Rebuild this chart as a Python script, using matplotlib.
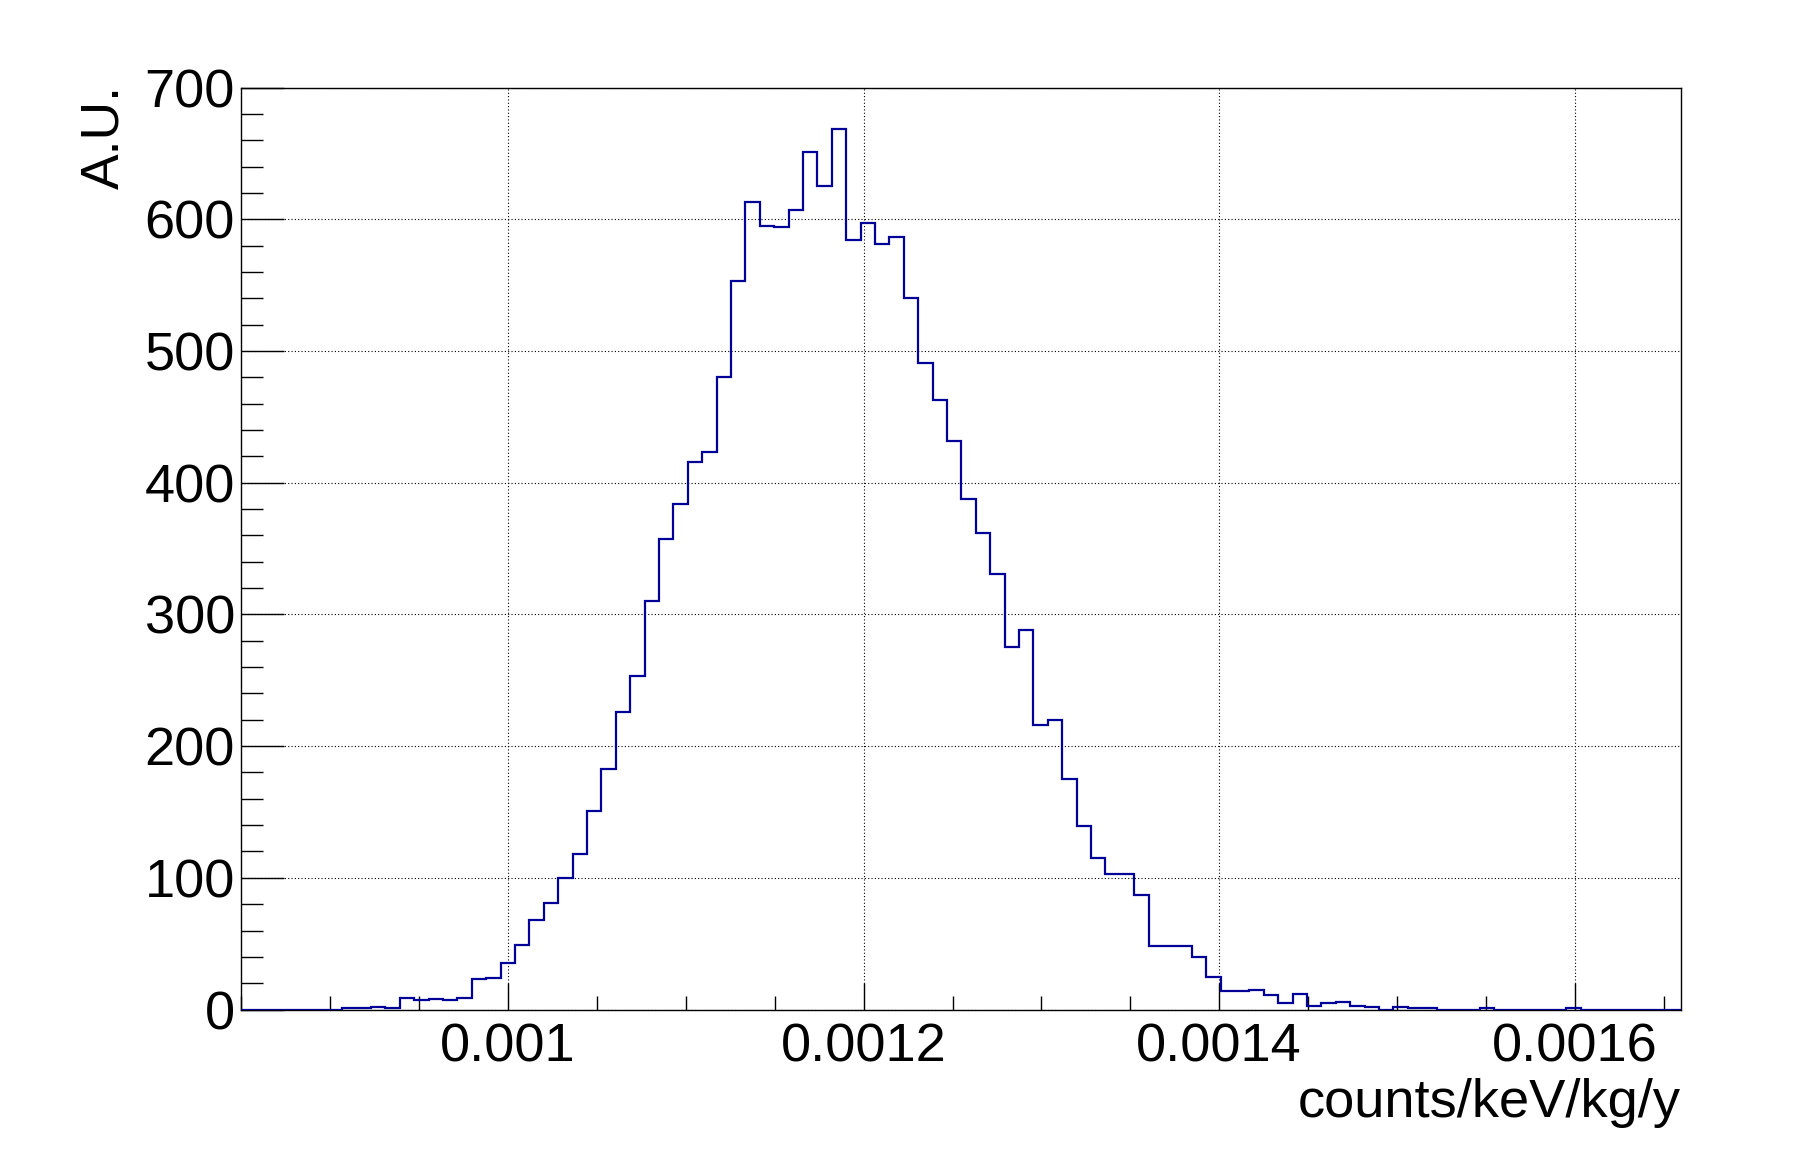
import numpy as np
import matplotlib
matplotlib.use('Agg')
import matplotlib.pyplot as plt
from matplotlib.ticker import MultipleLocator, FuncFormatter

# histogram range and binning
x_low = 0.00085
x_high = 0.00166
n_bins = 100

# bin contents
counts = [0, 0, 0, 0, 0, 0, 0, 1, 1, 2,
          1, 9, 7, 8, 7, 9, 23, 24, 35, 49,
          68, 81, 100, 118, 151, 183, 226, 253, 310, 357,
          384, 416, 423, 480, 553, 613, 595, 594, 607, 651,
          625, 669, 584, 597, 581, 587, 540, 491, 463, 432,
          388, 362, 331, 275, 288, 216, 220, 175, 139, 115,
          103, 103, 87, 48, 48, 48, 40, 25, 14, 14,
          15, 11, 5, 12, 3, 5, 6, 3, 2, 0,
          2, 1, 1, 0, 0, 0, 1, 0, 0, 0,
          0, 0, 1, 0, 0, 0, 0, 0, 0, 0]

x_title = 'counts/keV/kg/y'
y_title = 'A.U.'

plt.rcParams['font.family'] = ['Liberation Sans', 'DejaVu Sans']

fig = plt.figure(figsize=(17.98, 11.54), dpi=100)
ax = fig.add_axes([0.1342, 0.1252, 0.8010, 0.7988])

edges = np.linspace(x_low, x_high, n_bins + 1)
ax.stairs(counts, edges, color='#000099', linewidth=1.6, zorder=3)

ax.set_xlim(x_low, x_high)
ax.set_ylim(0, 700)

ax.xaxis.set_major_locator(MultipleLocator(0.0002))
ax.xaxis.set_minor_locator(MultipleLocator(0.00005))
ax.yaxis.set_major_locator(MultipleLocator(100))
ax.yaxis.set_minor_locator(MultipleLocator(20))
ax.xaxis.set_major_formatter(FuncFormatter(lambda v, p: '%g' % v))

ax.tick_params(which='both', direction='in', top=False, right=False,
               width=1.0, labelsize=39)
ax.tick_params(axis='x', which='major', length=19.5, pad=9)
ax.tick_params(axis='x', which='minor', length=10)
ax.tick_params(axis='y', which='major', length=31, pad=4.5)
ax.tick_params(axis='y', which='minor', length=16)

for s in ax.spines.values():
    s.set_linewidth(1.0)

ax.grid(True, which='major', color='black', linestyle=(0, (1, 2)), linewidth=0.8)

fig.text(0.935, 0.032, x_title, ha='right', va='baseline', fontsize=39.2)
fig.text(0.0718, 0.9263, y_title, ha='right', va='top', rotation=90, fontsize=38.5)

fig.savefig('out.png', dpi=100)
